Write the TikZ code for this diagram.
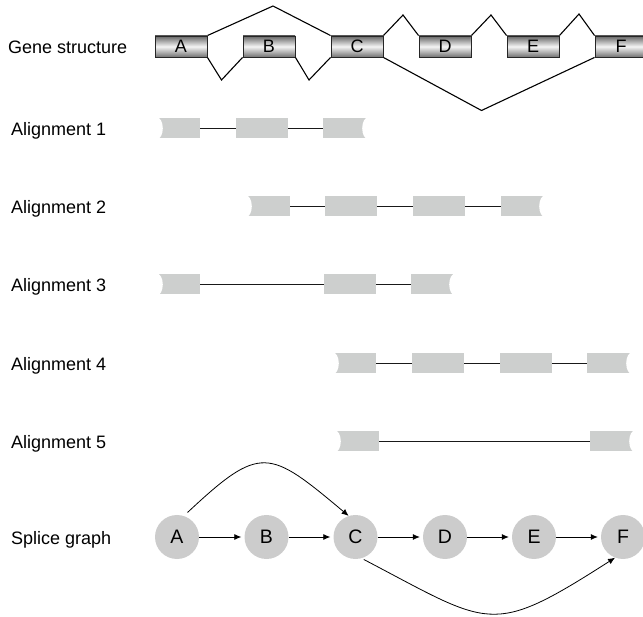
\documentclass[tikz,border=0pt]{standalone}
\usepackage{fontspec}
\setmainfont{Liberation Sans}
\usetikzlibrary{arrows.meta}
\definecolor{algray}{RGB}{205,207,206}
\definecolor{circgray}{RGB}{204,204,204}
\begin{document}
\begin{tikzpicture}[x=1pt,y=-1pt,
  rowlabel/.style={anchor=base west,inner sep=0pt,font=\fontsize{18}{21}\selectfont},
  genebox/.style={draw=black!85,line width=0.9pt,minimum width=52pt,minimum height=21pt,inner sep=0pt,
     top color=black!60,bottom color=black!55,middle color=black!4,font=\fontsize{18}{20}\selectfont},
  intron/.style={draw=black,line width=1.1pt,line join=miter},
  albox/.style={fill=algray,inner sep=0pt,minimum height=20pt},
  alline/.style={draw=black!90,line width=1.1pt},
  sgnode/.style={circle,fill=circgray,minimum size=44pt,inner sep=0pt,font=\fontsize{19.5}{22}\selectfont},
  sgarrow/.style={draw=black,line width=0.8pt,-{Latex[length=7pt,width=6pt]}}
]
\useasboundingbox (0,0) rectangle (643,617);
\clip (0,0) rectangle (643,617);

% row labels
\node[rowlabel] (lg) at (8,53.3) {Gene structure};
\node[rowlabel] (l1) at (11,135.5) {Alignment 1};
\node[rowlabel] (l2) at (11,213.5) {Alignment 2};
\node[rowlabel] (l3) at (11,291.7) {Alignment 3};
\node[rowlabel] (l4) at (11,370.5) {Alignment 4};
\node[rowlabel] (l5) at (11,448.5) {Alignment 5};
\node[rowlabel] (ls) at (11,544) {Splice graph};

% gene structure
\node[genebox] (gA) at (181,46.5) {A};
\node[genebox] (gB) at (269,46.5) {B};
\node[genebox] (gC) at (357,46.5) {C};
\node[genebox] (gD) at (445,46.5) {D};
\node[genebox] (gE) at (533,46.5) {E};
\node[genebox] (gF) at (621,46.5) {F};
\coordinate (pAC) at (273,6);
\coordinate (pAB) at (221.5,80);
\coordinate (pBC) at (309,80);
\coordinate (pCD) at (403,15);
\coordinate (pDE) at (491,15);
\coordinate (pEF) at (579,14);
\coordinate (pCF) at (481.5,110.5);
\draw[intron] (gA.north east) -- (pAC) -- (gC.north west);
\draw[intron] (gA.south east) -- (pAB) -- (gB.south west);
\draw[intron] (gB.south east) -- (pBC) -- (gC.south west);
\draw[intron] (gC.north east) -- (pCD) -- (gD.north west);
\draw[intron] (gD.north east) -- (pDE) -- (gE.north west);
\draw[intron] (gE.north east) -- (pEF) -- (gF.north west);
\draw[intron] (gC.south east) -- (pCF) -- (gF.south west);

% alignment 1
\node[albox,minimum width=43pt] (b11) at (178.5,128.3) {};
\node[albox,minimum width=52pt] (b12) at (262,128.3) {};
\node[albox,minimum width=45pt] (b13) at (345.5,128.3) {};
% alignment 2
\node[albox,minimum width=44pt] (b21) at (268,206.3) {};
\node[albox,minimum width=52pt] (b22) at (351,206.3) {};
\node[albox,minimum width=52pt] (b23) at (439,206.3) {};
\node[albox,minimum width=44pt] (b24) at (523,206.3) {};
% alignment 3
\node[albox,minimum width=43pt] (b31) at (178.5,284.5) {};
\node[albox,minimum width=52pt] (b32) at (350,284.5) {};
\node[albox,minimum width=44pt] (b33) at (433,284.5) {};
% alignment 4
\node[albox,minimum width=43pt] (b41) at (354.5,363.3) {};
\node[albox,minimum width=52pt] (b42) at (438,363.3) {};
\node[albox,minimum width=52pt] (b43) at (526,363.3) {};
\node[albox,minimum width=45pt] (b44) at (609.5,363.3) {};
% alignment 5
\node[albox,minimum width=44pt] (b51) at (357,441.3) {};
\node[albox,minimum width=45pt] (b52) at (612.5,441.3) {};

% notches at truncated ends
\foreach \n in {b11,b21,b31,b41,b51}
  \fill[white] (\n.west) ellipse [x radius=6pt, y radius=11pt];
\foreach \n in {b13,b24,b33,b44,b52}
  \fill[white] (\n.east) ellipse [x radius=6pt, y radius=11pt];

% alignment connectors
\draw[alline] (b11) -- (b12);
\draw[alline] (b12) -- (b13);
\draw[alline] (b21) -- (b22);
\draw[alline] (b22) -- (b23);
\draw[alline] (b23) -- (b24);
\draw[alline] (b31) -- (b32);
\draw[alline] (b32) -- (b33);
\draw[alline] (b41) -- (b42);
\draw[alline] (b42) -- (b43);
\draw[alline] (b43) -- (b44);
\draw[alline] (b51) -- (b52);

% splice graph
\node[sgnode] (A) at (177,537) {A};
\node[sgnode] (B) at (266.5,537) {B};
\node[sgnode] (C) at (355.5,537) {C};
\node[sgnode] (D) at (445,537) {D};
\node[sgnode] (E) at (534,537) {E};
\node[sgnode] (F) at (623,537) {F};
\draw[sgarrow,shorten >=3pt] (A) -- (B);
\draw[sgarrow,shorten >=3pt] (B) -- (C);
\draw[sgarrow,shorten >=3pt] (C) -- (D);
\draw[sgarrow,shorten >=3pt] (D) -- (E);
\draw[sgarrow,shorten >=3pt] (E) -- (F);
\draw[sgarrow,shorten <=5pt] (A.72) .. controls +(77,-72) and +(-80,-67) .. (C.108);
\draw[sgarrow,shorten <=2.5pt] (C.-74) .. controls +(130,68) and +(-125,80) .. (F.-111);
\end{tikzpicture}
\end{document}
